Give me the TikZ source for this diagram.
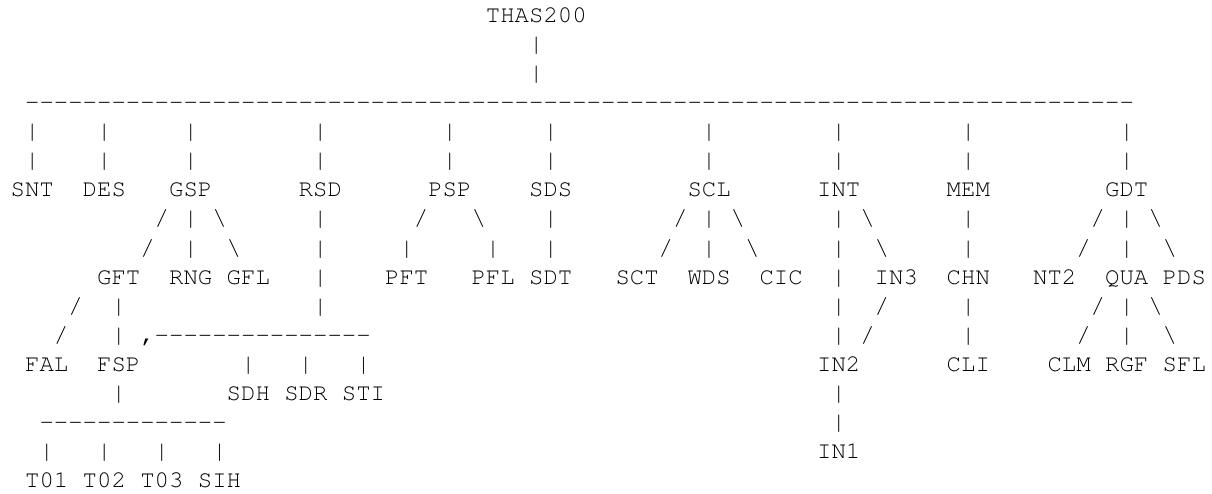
\documentclass[tikz,border=0pt]{standalone}
\usepackage{fontspec}
\tikzset{tk/.style={inner sep=0pt, outer sep=0pt, anchor=base west, text=black,
  font=\fontencoding{T1}\fontfamily{pcr}\fontseries{m}\fontshape{n}\fontsize{24pt}{24pt}\selectfont}}
\newcommand\bs{\textbackslash}
% label node: name, column, row, text
\newcommand\lb[4]{\node[tk] (#1) at ({10.7pt+14.4pt*(#2)},{-23pt-29pt*(#3-1)}) {#4};}
% connector character: column, row, text
\newcommand\ch[3]{\node[tk] (r#2c#1) at ({10.7pt+14.4pt*(#1)},{-23pt-29pt*(#2-1)}) {#3};}
\begin{document}
\begin{tikzpicture}
\useasboundingbox (0pt,0pt) rectangle (1212pt,-494pt);
% row 1-4
\lb{THAS200}{33}{1}{THAS200}
\ch{36}{2}{|}
\ch{36}{3}{|}
\foreach \c in {1,...,77}{\ch{\c}{4}{-}}
% rows 5-6
\foreach \c in {1,6,12,21,30,37,48,57,66,77}{\ch{\c}{5}{|}\ch{\c}{6}{|}}
% row 7
\lb{SNT}{0}{7}{SNT}
\lb{DES}{5}{7}{DES}
\lb{GSP}{11}{7}{GSP}
\lb{RSD}{20}{7}{RSD}
\lb{PSP}{29}{7}{PSP}
\lb{SDS}{36}{7}{SDS}
\lb{SCL}{47}{7}{SCL}
\lb{INT}{56}{7}{INT}
\lb{MEM}{65}{7}{MEM}
\lb{GDT}{76}{7}{GDT}
% row 8
\ch{10}{8}{/}\ch{12}{8}{|}\ch{14}{8}{\bs}
\ch{21}{8}{|}
\ch{28}{8}{/}\ch{32}{8}{\bs}
\ch{37}{8}{|}
\ch{46}{8}{/}\ch{48}{8}{|}\ch{50}{8}{\bs}
\ch{57}{8}{|}\ch{59}{8}{\bs}
\ch{66}{8}{|}
\ch{75}{8}{/}\ch{77}{8}{|}\ch{79}{8}{\bs}
% row 9
\ch{9}{9}{/}\ch{12}{9}{|}\ch{15}{9}{\bs}
\ch{21}{9}{|}
\ch{27}{9}{|}\ch{33}{9}{|}
\ch{37}{9}{|}
\ch{45}{9}{/}\ch{48}{9}{|}\ch{51}{9}{\bs}
\ch{57}{9}{|}\ch{60}{9}{\bs}
\ch{66}{9}{|}
\ch{74}{9}{/}\ch{77}{9}{|}\ch{80}{9}{\bs}
% row 10
\lb{GFT}{6}{10}{GFT}
\lb{RNG}{11}{10}{RNG}
\lb{GFL}{15}{10}{GFL}
\ch{21}{10}{|}
\lb{PFT}{26}{10}{PFT}
\lb{PFL}{32}{10}{PFL}
\lb{SDT}{36}{10}{SDT}
\lb{SCT}{42}{10}{SCT}
\lb{WDS}{47}{10}{WDS}
\lb{CIC}{52}{10}{CIC}
\ch{57}{10}{|}
\lb{IN3}{60}{10}{IN3}
\lb{CHN}{65}{10}{CHN}
\lb{NT2}{71}{10}{NT2}
\lb{QUA}{76}{10}{QUA}
\lb{PDS}{80}{10}{PDS}
% row 11
\ch{4}{11}{/}\ch{7}{11}{|}
\ch{21}{11}{|}
\ch{57}{11}{|}\ch{60}{11}{/}
\ch{66}{11}{|}
\ch{75}{11}{/}\ch{77}{11}{|}\ch{79}{11}{\bs}
% row 12
\ch{3}{12}{/}\ch{7}{12}{|}
\ch{9}{12}{,}
\foreach \c in {10,...,24}{\ch{\c}{12}{-}}
\ch{57}{12}{|}\ch{59}{12}{/}
\ch{66}{12}{|}
\ch{74}{12}{/}\ch{77}{12}{|}\ch{80}{12}{\bs}
% row 13
\lb{FAL}{1}{13}{FAL}
\lb{FSP}{6}{13}{FSP}
\ch{16}{13}{|}\ch{20}{13}{|}\ch{24}{13}{|}
\lb{IN2}{56}{13}{IN2}
\lb{CLI}{65}{13}{CLI}
\lb{CLM}{72}{13}{CLM}
\lb{RGF}{76}{13}{RGF}
\lb{SFL}{80}{13}{SFL}
% row 14
\ch{7}{14}{|}
\lb{SDH}{15}{14}{SDH}
\lb{SDR}{19}{14}{SDR}
\lb{STI}{23}{14}{STI}
\ch{57}{14}{|}
% row 15
\foreach \c in {2,...,14}{\ch{\c}{15}{-}}
\ch{57}{15}{|}
% row 16
\foreach \c in {2,6,10,14}{\ch{\c}{16}{|}}
\lb{IN1}{56}{16}{IN1}
% row 17
\lb{T01}{1}{17}{T01}
\lb{T02}{5}{17}{T02}
\lb{T03}{9}{17}{T03}
\lb{SIH}{13}{17}{SIH}
\end{tikzpicture}
\end{document}
